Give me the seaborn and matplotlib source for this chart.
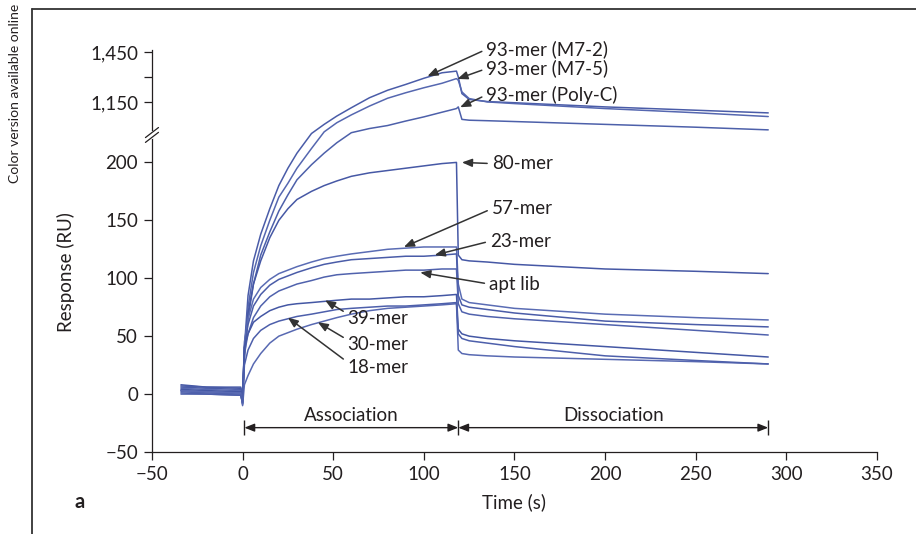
import matplotlib
matplotlib.use("Agg")
import matplotlib.pyplot as plt
from matplotlib.lines import Line2D
from matplotlib.ticker import FuncFormatter
import numpy as np
import pandas as pd
import seaborn as sns

# ----- data ------------------------------------------------------------------
TIME = [-34, -20, -1, 0, 1, 3, 6, 10, 15, 20, 25, 30, 38, 45, 52, 60, 70, 80,
        90, 100, 110, 118, 119, 121, 125, 135, 150, 200, 250, 290]

M7_2 = [6, 5, 4, -8, 40, 85, 115, 138, 160, 180, 195, 208, 960, 1015, 1065,
        1115, 1175, 1220, 1255, 1292, 1325, 1335,
        1300, 1200, 1165, 1152, 1145, 1120, 1100, 1084]
M7_5 = [3, 2, 1, -5, 35, 75, 105, 128, 150, 170, 182, 195, 212, 970, 1025,
        1072, 1125, 1172, 1205, 1235, 1262, 1290,
        1280, 1210, 1170, 1150, 1140, 1110, 1085, 1062]
POLY_C = [0, 0, -1, -8, 30, 65, 95, 120, 140, 158, 172, 185, 198, 208, 217,
          965, 990, 1008, 1035, 1060, 1088, 1110,
          1120, 1045, 1040, 1037, 1032, 1015, 998, 982]
MER80 = [8, 6, 5, -3, 40, 70, 95, 115, 135, 150, 160, 168, 175, 180, 184,
         188, 191, 193, 195, 197, 199, 200,
         120, 116, 115, 114, 112, 108, 106, 104]
MER57 = [5, 4, 3, -6, 45, 65, 82, 92, 99, 104, 107, 110, 114, 117, 119,
         121, 123, 125, 126, 127, 127, 127,
         95, 82, 79, 77, 74, 69, 66, 64]
MER23 = [7, 6, 6, -2, 40, 60, 76, 86, 94, 99, 102, 105, 109, 112, 114,
         116, 117, 118, 119, 119, 120, 121,
         85, 77, 75, 73, 70, 63, 60, 58]
APT_LIB = [2, 1, 0, -9, 35, 52, 66, 76, 84, 89, 92, 95, 98, 101, 103,
           104, 105, 106, 107, 107, 108, 108,
           78, 71, 69, 67, 65, 60, 55, 51]
MER39 = [4, 3, 2, -4, 40, 52, 62, 67, 72, 75, 77, 78, 79, 80, 81,
         82, 82, 83, 84, 84, 85, 86,
         56, 52, 50, 48, 46, 41, 36, 32]
MER18 = [1, 0, -1, -7, 25, 38, 48, 55, 60, 63, 65, 67, 69, 71, 73,
         74, 75, 76, 76, 77, 78, 79,
         52, 48, 46, 44, 41, 33, 29, 26]
MER30 = [3, 2, 1, -10, 8, 16, 26, 35, 44, 50, 53, 56, 60, 63, 66,
         69, 72, 74, 75, 76, 77, 78,
         38, 35, 34, 33, 32, 30, 28, 26]

CURVES = {
    "93-mer (M7-2)": M7_2, "93-mer (M7-5)": M7_5, "93-mer (Poly-C)": POLY_C,
    "80-mer": MER80, "57-mer": MER57, "23-mer": MER23, "apt lib": APT_LIB,
    "39-mer": MER39, "30-mer": MER30, "18-mer": MER18,
}

X_TICKS = [-50, 0, 50, 100, 150, 200, 250, 300, 350]
Y_TICKS = [-50, 0, 50, 100, 150, 200, 1150, 1450]
Y_MINOR = [1300]

# ----- broken y scale ---------------------------------------------------------
LO, HI, GAP, K = 223.3, 952.0, 0.5, 0.14368


def fwd(y):
    y = np.asarray(y, dtype=float)
    return np.where(y <= LO, y,
                    np.where(y <= HI, LO + (y - LO) * GAP / (HI - LO),
                             LO + GAP + (y - HI) * K))


def inv(d):
    d = np.asarray(d, dtype=float)
    return np.where(d <= LO, d,
                    np.where(d <= LO + GAP, LO + (d - LO) * (HI - LO) / GAP,
                             HI + (d - LO - GAP) / K))


# ----- style -----------------------------------------------------------------
sns.set_theme(style="ticks")
plt.rcParams["font.family"] = ["Lato", "DejaVu Sans"]
plt.rcParams["axes.unicode_minus"] = True
INK = "#231f20"
LINE_COLORS = ["#4a5ca8", "#5567b0", "#4d60aa", "#4658a5", "#5a6cb4",
               "#4a5ca8", "#5062ad", "#4457a4", "#5869b2", "#4d5fab"]
FS = 13.5

rows = []
for name, vals in CURVES.items():
    for t, v in zip(TIME, vals):
        rows.append((name, t, v))
df = pd.DataFrame(rows, columns=["curve", "time", "response"])

fig = plt.figure(figsize=(9.16, 5.34), dpi=100)
ax = fig.add_axes([0.1659, 0.1536, 0.7915, 0.7528])
ax.set_yscale("function", functions=(fwd, inv))

sns.lineplot(data=df, x="time", y="response", hue="curve",
             palette=dict(zip(CURVES, LINE_COLORS)), estimator=None,
             sort=False, legend=False, lw=1.1, ax=ax)

ax.set_xlim(-50, 350)
ax.set_ylim(-50, 1462)
ax.set_xticks(X_TICKS)
ax.set_yticks(Y_TICKS)
ax.set_yticks(Y_MINOR, minor=True)
fmt = FuncFormatter(lambda v, _: f"{v:,.0f}".replace("-", "\u2212"))
ax.yaxis.set_major_formatter(fmt)
ax.xaxis.set_major_formatter(fmt)
ax.tick_params(which="both", direction="out", length=6, width=0.9,
               color=INK, labelsize=FS, labelcolor=INK, pad=4)
ax.tick_params(axis="x", which="minor", length=0)
for s in ("left", "bottom"):
    ax.spines[s].set_linewidth(0.9)
    ax.spines[s].set_color(INK)
sns.despine(ax=ax)

ax.set_xlabel("Time (s)", fontsize=FS, color=INK)
ax.set_ylabel("Response (RU)", fontsize=FS, color=INK)
ax.xaxis.set_label_coords(0.5, -0.102)
ax.yaxis.set_label_coords(-0.106, 0.448)

# break marks on the y axis
yb = 0.7886
ax.plot([0, 0], [yb - 0.006, yb + 0.006], color="white", lw=3,
        transform=ax.transAxes, clip_on=False, zorder=5)
for off in (-0.006, 0.006):
    ax.plot([-0.009, 0.009], [yb - 0.0125 + off, yb + 0.0125 + off],
            color=INK, lw=0.9, transform=ax.transAxes, clip_on=False, zorder=6)

# curve labels: (text, tip_x, tip_y, text_x, text_y, anchor)
LABELS = [
    ("93-mer (M7-2)", 102, 1305, 134.5, 1466, 0.5),
    ("93-mer (M7-5)", 118.5, 1288, 134.5, 1350, 0.5),
    ("93-mer (Poly-C)", 120, 1118, 134.5, 1192, 0.5),
    ("80-mer", 121, 200, 137.5, 199, 0.5),
    ("57-mer", 89, 127, 137.5, 160, 0.5),
    ("23-mer", 106, 120, 136.5, 132, 0.5),
    ("apt lib", 98, 105, 136, 95, 0.5),
    ("39-mer", 45.5, 81, 58, 65.5, 0.75),
    ("30-mer", 41.5, 62, 58, 43, 0.75),
    ("18-mer", 25, 66, 58, 23, 0.8),
]
for text, tx, ty, lx, ly, rel in LABELS:
    ax.annotate(text, xy=(tx, ty), xytext=(lx, ly), ha="left", va="center",
                fontsize=FS, color=INK, annotation_clip=False,
                arrowprops=dict(arrowstyle="-|>,head_length=0.45,head_width=0.18",
                                color="#333333", lw=1.1, shrinkA=1, shrinkB=0,
                                relpos=(0, rel)))

# association / dissociation spans
PHASES = [("Association", 1, 119), ("Dissociation", 119, 290)]
for name, t0, t1 in PHASES:
    ax.annotate("", xy=(t1, -29), xytext=(t0, -29),
                arrowprops=dict(arrowstyle="<|-|>,head_length=0.5,head_width=0.2",
                                color=INK, lw=1.0, shrinkA=0, shrinkB=0))
    ax.text((t0 + t1) / 2, -18.5, name, ha="center", va="center",
            fontsize=FS, color=INK)
ax.vlines([1, 119, 290], -35.5, -22.5, color=INK, lw=1.0)

# page furniture
fig.add_artist(Line2D([32 / 916, 1], [1 - 9 / 534, 1 - 9 / 534],
                      color="#333333", lw=1.3))
fig.add_artist(Line2D([32 / 916, 32 / 916], [0, 1 - 9 / 534],
                      color="#333333", lw=1.3))
fig.text(0.0164, 0.826, "Color version available online", rotation=90,
         ha="center", va="center", fontsize=10, color=INK)
fig.text(0.087, 0.06, "a", ha="center", va="center", fontsize=FS + 1,
         fontweight="bold", color=INK)

fig.savefig("out.png", dpi=100)
